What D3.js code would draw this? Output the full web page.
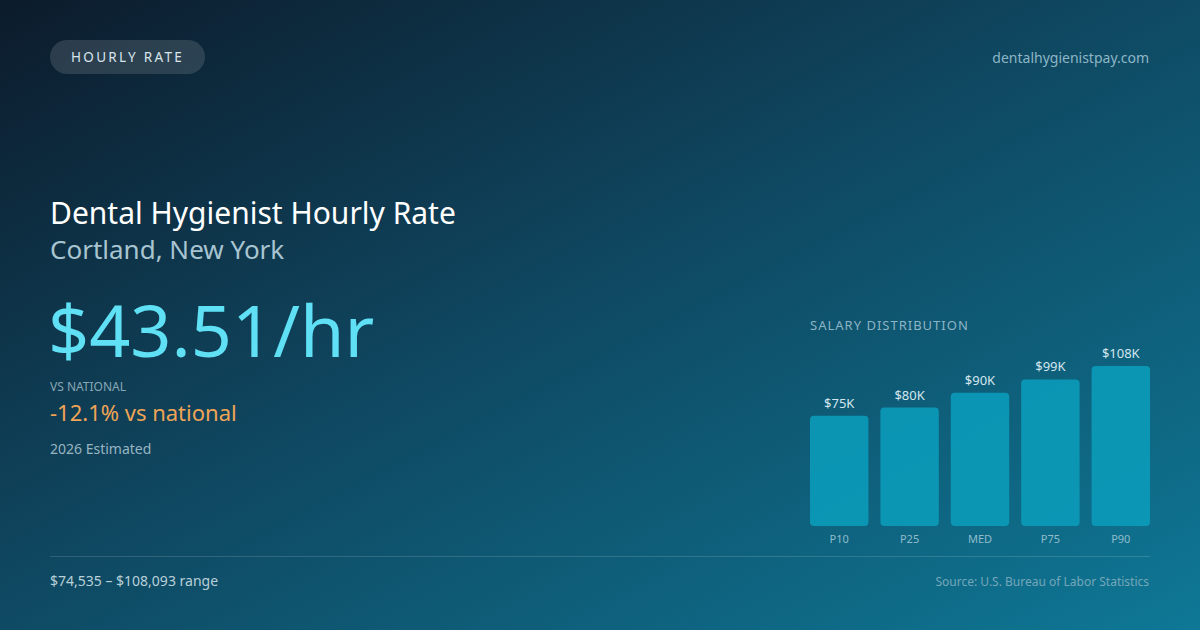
<!DOCTYPE html>
<html>
<head>
<meta charset="utf-8">
<script src="https://cdn.jsdelivr.net/npm/d3@7"></script>
<style>
  html, body { margin: 0; padding: 0; background: #0d1f30; }
  svg { display: block; font-family: 'Noto Sans', 'Open Sans', sans-serif; }
</style>
</head>
<body>
<svg id="card" width="1200" height="630"></svg>
<script>
// salary percentiles (annual, USD)
let percentiles = ['P10', 'P25', 'MED', 'P75', 'P90']
let salaries = [74535, 80000, 90000, 99000, 108093]
let salaryLabels = ['$75K', '$80K', '$90K', '$99K', '$108K']

let hourlyRate = '$43.51/hr'
let vsNational = '-12.1% vs national'
let rangeText = '$74,535 – $108,093 range'

let svg = d3.select('#card'),
    width = 1200,
    height = 630

// background gradient
let defs = svg.append('defs')
let bg = defs.append('linearGradient')
  .attr('id', 'bg')
  .attr('x1', '0%').attr('y1', '0%')
  .attr('x2', '100%').attr('y2', '100%')
bg.append('stop').attr('offset', '0%').attr('stop-color', '#0c1b2b')
bg.append('stop').attr('offset', '45%').attr('stop-color', '#0f465f')
bg.append('stop').attr('offset', '100%').attr('stop-color', '#0e7896')

svg.append('rect')
  .attr('width', width)
  .attr('height', height)
  .attr('fill', 'url(#bg)')

// header pill
svg.append('rect')
  .attr('x', 50).attr('y', 40)
  .attr('width', 155).attr('height', 34)
  .attr('rx', 17)
  .attr('fill', 'rgba(255,255,255,0.13)')
svg.append('text')
  .attr('x', 127.5).attr('y', 62)
  .attr('text-anchor', 'middle')
  .attr('font-size', 13.5)
  .attr('letter-spacing', 2.3)
  .attr('fill', '#d9e5eb')
  .text('HOURLY RATE')

svg.append('text')
  .attr('x', 1149).attr('y', 63)
  .attr('text-anchor', 'end')
  .attr('font-size', 14)
  .attr('fill', '#8db6c6')
  .text('dentalhygienistpay.com')

// headline block
svg.append('text')
  .attr('x', 50).attr('y', 224)
  .attr('font-size', 30)
  .attr('fill', '#ffffff')
  .text('Dental Hygienist Hourly Rate')
svg.append('text')
  .attr('x', 50).attr('y', 259)
  .attr('font-size', 26)
  .attr('fill', '#a8c4d0')
  .text('Cortland, New York')
svg.append('text')
  .attr('x', 48).attr('y', 357)
  .attr('font-size', 72)
  .attr('fill', '#5fe0f4')
  .text(hourlyRate)
svg.append('text')
  .attr('x', 50).attr('y', 391)
  .attr('font-size', 12)
  .attr('fill', '#87a7b6')
  .text('VS NATIONAL')
svg.append('text')
  .attr('x', 50).attr('y', 421)
  .attr('font-size', 22)
  .attr('fill', '#f0a455')
  .text(vsNational)
svg.append('text')
  .attr('x', 50).attr('y', 454)
  .attr('font-size', 14)
  .attr('fill', '#98b4c1')
  .text('2026 Estimated')

// salary distribution chart
svg.append('text')
  .attr('x', 810).attr('y', 330)
  .attr('font-size', 13)
  .attr('letter-spacing', 1)
  .attr('fill', '#8db4c4')
  .text('SALARY DISTRIBUTION')

let chartBottom = 526,
    chartHeight = 160

let x = d3.scaleBand()
  .domain(percentiles)
  .range([810, 1150])
  .paddingInner(0.17)
  .paddingOuter(0)

let y = d3.scaleLinear()
  .domain([0, d3.max(salaries)])
  .range([0, chartHeight])

let bars = svg.append('g').selectAll('g')
  .data(percentiles)
  .join('g')

bars.append('rect')
  .attr('x', d => x(d))
  .attr('y', (d, i) => chartBottom - y(salaries[i]))
  .attr('width', x.bandwidth())
  .attr('height', (d, i) => y(salaries[i]))
  .attr('rx', 4)
  .attr('fill', '#0b9ab8')
  .attr('fill-opacity', 0.92)

bars.append('text')
  .attr('x', d => x(d) + x.bandwidth() / 2)
  .attr('y', (d, i) => chartBottom - y(salaries[i]) - 8)
  .attr('text-anchor', 'middle')
  .attr('font-size', 13)
  .attr('fill', '#d3e6ee')
  .text((d, i) => salaryLabels[i])

bars.append('text')
  .attr('x', d => x(d) + x.bandwidth() / 2)
  .attr('y', 543)
  .attr('text-anchor', 'middle')
  .attr('font-size', 11)
  .attr('fill', '#8fbccb')
  .text(d => d)

// footer
svg.append('line')
  .attr('x1', 50).attr('x2', 1150)
  .attr('y1', 556.5).attr('y2', 556.5)
  .attr('stroke', 'rgba(255,255,255,0.14)')
  .attr('stroke-width', 1)

svg.append('text')
  .attr('x', 50).attr('y', 586)
  .attr('font-size', 14)
  .attr('fill', '#b9d0d9')
  .text(rangeText)
svg.append('text')
  .attr('x', 1149).attr('y', 586)
  .attr('text-anchor', 'end')
  .attr('font-size', 12)
  .attr('fill', '#75a6b9')
  .text('Source: U.S. Bureau of Labor Statistics')
</script>
</body>
</html>
